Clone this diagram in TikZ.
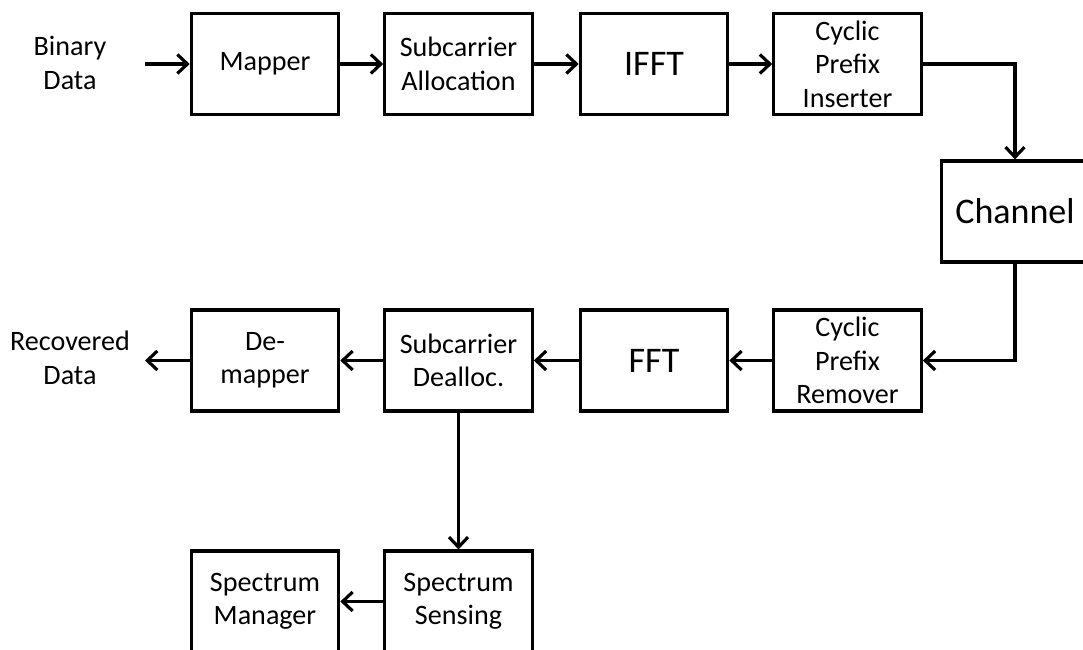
\documentclass[tikz,border=0pt]{standalone}
\usepackage{fontspec}
\setmainfont{Carlito}
\usetikzlibrary{arrows.meta}
\tikzstyle{rect} = [rectangle, minimum width=2.95cm, minimum height=2.02cm, align=center, draw=black, line width=1.8pt, font=\fontsize{16}{19}\selectfont]
\tikzstyle{bigrect} = [rect, font=\fontsize{20.5}{24}\selectfont]
\tikzstyle{lbl} = [align=center, font=\fontsize{16}{19}\selectfont]
\tikzstyle{arrow} = [line width=1.8pt,-{Straight Barb[length=0.2cm, width=0.38cm]}]

\begin{document}
\begin{tikzpicture}
        \useasboundingbox (0,0) rectangle (21.66,-13);
        % transmitter
        \node (in) [lbl] at (1.40,-1.26) {Binary\\Data};
        \coordinate (plain1) at (2.90,-1.28);
        \node (tx1) [rect] at (5.30,-1.28) {Mapper};
        \node (tx2) [rect] at (9.17,-1.28) {Subcarrier\\Allocation};
        \node (tx3) [bigrect] at (13.08,-1.28) {IFFT};
        \node (tx4) [rect] at (16.95,-1.28) {Cyclic\\Prefix\\Inserter};
        \draw [arrow] (plain1) -- (tx1);
        \draw [arrow] (tx1) -- (tx2);
        \draw [arrow] (tx2) -- (tx3);
        \draw [arrow] (tx3) -- (tx4);
        
        \node (ch) [bigrect] at (20.30,-4.23) {Channel};
        \draw [arrow] (tx4) -| (ch);
        
        % receiver
        \node (rx1) [rect] at (16.95,-7.21) {Cyclic\\Prefix\\Remover};
        \node (rx2) [bigrect] at (13.08,-7.21) {FFT};
        \node (rx3) [rect] at (9.17,-7.21) {Subcarrier\\Dealloc.};
        \node (rx4) [rect] at (5.30,-7.21) {De-\\mapper};
        \coordinate (plain2) at (2.90,-7.21);
        \node (out) [lbl] at (1.40,-7.16) {Recovered\\Data};
        \draw [arrow] (ch) |- (rx1);
        \draw [arrow] (rx1) -- (rx2);
        \draw [arrow] (rx2) -- (rx3);
        \draw [arrow] (rx3) -- (rx4);
        \draw [arrow] (rx4) -- (plain2);
        
        % sensing
        \node (ss1) [rect] at (9.17,-12.03) {Spectrum\\Sensing};
        \node (ss2) [rect] at (5.30,-12.03) {Spectrum\\Manager};
        \draw [arrow] (rx3) -- (ss1);
        \draw [arrow] (ss1) -- (ss2);
\end{tikzpicture}
\end{document}
